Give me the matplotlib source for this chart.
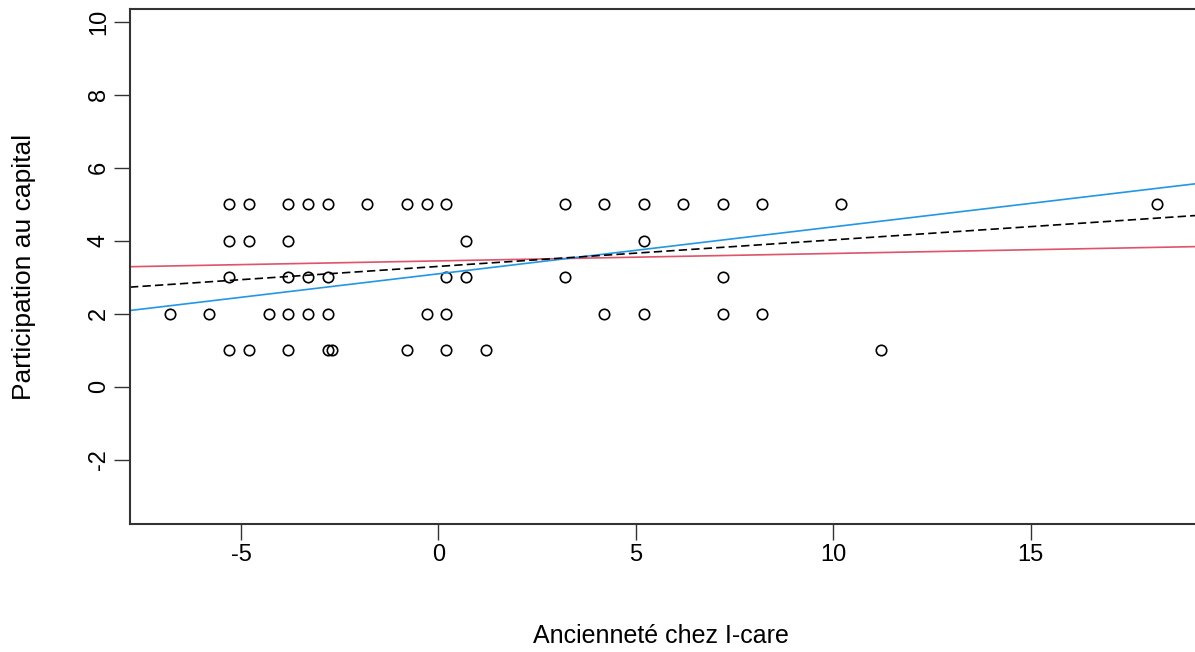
import numpy as np
import matplotlib
matplotlib.use("Agg")
import matplotlib.pyplot as plt

plt.rcParams["font.family"] = ["Liberation Sans", "DejaVu Sans"]
plt.rcParams["axes.unicode_minus"] = False

# points, grouped by y value
x5 = [-5.3, -4.8, -3.8, -3.3, -2.8, -1.8, -0.8, -0.3, 0.2, 3.2, 4.2, 5.2, 6.2, 7.2, 8.2, 10.2, 18.2]
x4 = [-5.3, -4.8, -3.8, 0.7, 5.2]
x3 = [-5.3, -3.8, -3.3, -2.8, 0.2, 0.7, 3.2, 7.2]
x2 = [-6.8, -5.8, -4.3, -3.8, -3.3, -2.8, -0.3, 0.2, 4.2, 5.2, 7.2, 8.2]
x1 = [-5.3, -4.8, -3.8, -2.8, -2.7, -0.8, 0.2, 1.2, 11.2]

anciennete = np.array(x5 + x4 + x3 + x2 + x1)
participation = np.array([5] * len(x5) + [4] * len(x4) + [3] * len(x3)
                         + [2] * len(x2) + [1] * len(x1))

# fitted lines (intercept, slope)
line_red = (3.449, 0.0204)
line_blue = (3.095, 0.1287)
line_dash = (3.298, 0.0727)

xticks = [-5, 0, 5, 10, 15]
yticks = [-2, 0, 2, 4, 6, 8, 10]

fig = plt.figure(figsize=(11.95, 6.52), dpi=100)
ax = fig.add_axes([130 / 1195, 1 - 524 / 652, 1 - 130 / 1195, (524 - 9.4) / 652])

ax.plot(anciennete, participation, "o", mfc="none", mec="black", ms=7.5, mew=1.2)

ax.axline((0, line_red[0]), slope=line_red[1], color="#DF536B", lw=1.2)
ax.axline((0, line_blue[0]), slope=line_blue[1], color="#2297E6", lw=1.2)
ax.axline((0, line_dash[0]), slope=line_dash[1], color="black", lw=1.2,
          dashes=(5, 2.5))

ax.set_xlim(-7.81, 19.16)
ax.set_ylim(-3.76, 10.34)
ax.set_xticks(xticks)
ax.set_yticks(yticks)
ax.tick_params(length=11.5, width=1.0, color="#333333", labelsize=17, pad=3)
ax.tick_params(axis="y", labelrotation=90)
for lab in ax.get_yticklabels():
    lab.set_va("center")

for s in ["left", "bottom", "top"]:
    ax.spines[s].set_linewidth(1.5)
    ax.spines[s].set_color("#333333")
ax.spines["right"].set_visible(False)

ax.set_xlabel("Ancienneté chez I-care", fontsize=18)
ax.set_ylabel("Participation au capital", fontsize=19)
ax.xaxis.set_label_coords(0.499, -0.2177)
ax.xaxis.label.set_va("center")
ax.yaxis.set_label_coords(-0.0995, 0.5)
ax.yaxis.label.set_va("center")

fig.savefig("out.png", dpi=100)
